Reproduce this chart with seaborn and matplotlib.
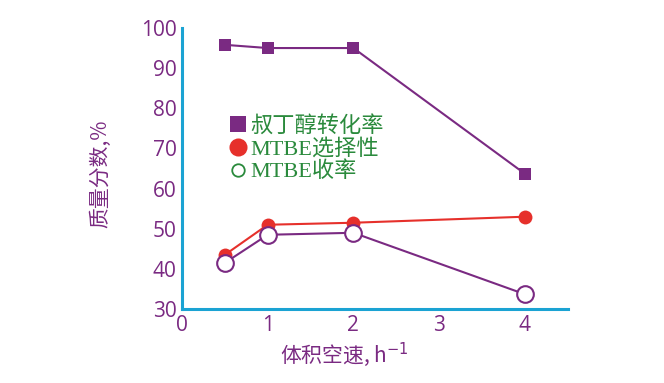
import matplotlib
matplotlib.use('Agg')
import matplotlib.pyplot as plt
import seaborn as sns
from matplotlib.lines import Line2D

# Data
space_velocity = [0.5, 1, 2, 4]
tba_conversion = [95.8, 95.0, 95.0, 63.7]
mtbe_selectivity = [43.5, 51.0, 51.5, 53.0]
mtbe_yield = [41.5, 48.5, 49.0, 33.7]

legend_labels = ['叔丁醇转化率', 'MTBE选择性', 'MTBE收率']
x_ticks = [0, 1, 2, 3, 4]
y_ticks = [30, 40, 50, 60, 70, 80, 90, 100]

purple = '#7a2a82'
red = '#e6302b'
cyan = '#1ba3d3'
green = '#2a8a3c'

sns.set_theme(style='white')
plt.rcParams['font.family'] = ['Liberation Serif', 'Noto Sans CJK SC', 'DejaVu Sans']

fig = plt.figure(figsize=(6.64, 3.83), dpi=100)
ax = fig.add_axes([0.274, 0.193, 0.581, 0.734])

sns.lineplot(x=space_velocity, y=tba_conversion, ax=ax, color=purple, lw=1.5,
             marker='s', markersize=8, markeredgewidth=0, markerfacecolor=purple)
sns.lineplot(x=space_velocity, y=mtbe_selectivity, ax=ax, color=red, lw=1.5,
             marker='o', markersize=10, markeredgewidth=0, markerfacecolor=red)
sns.lineplot(x=space_velocity, y=mtbe_yield, ax=ax, color=purple, lw=1.5,
             marker='o', markersize=12, markeredgewidth=1.5,
             markerfacecolor='white', markeredgecolor=purple)

ax.set_xlim(0, 4.5)
ax.set_ylim(30, 100)
ax.set_xticks(x_ticks + [4.5])
ax.set_xticklabels([str(t) for t in x_ticks] + [''])
ax.set_yticks(y_ticks)
ax.set_yticklabels([str(t) for t in y_ticks])

for side in ['top', 'right']:
    ax.spines[side].set_visible(False)
for side in ['left', 'bottom']:
    ax.spines[side].set_color(cyan)
    ax.spines[side].set_linewidth(2.2)

ax.tick_params(axis='both', direction='in', length=6, width=2, color=cyan,
               labelcolor=purple, labelsize=15)
ax.tick_params(axis='x', pad=4)
ax.tick_params(axis='y', pad=4)
for lab in ax.get_xticklabels() + ax.get_yticklabels():
    lab.set_family(['Open Sans', 'DejaVu Sans'])

ax.set_ylabel('质量分数,%', color=purple, fontsize=15,
              family=['Noto Sans CJK SC', 'DejaVu Sans'], va='center')
ax.yaxis.set_label_coords(-0.212, 0.48)
ax.set_xlabel('体积空速, h$^{-1}$', color=purple, fontsize=15,
              family=['Noto Sans CJK SC', 'DejaVu Sans'], va='center')
ax.xaxis.set_label_coords(0.42, -0.164)

handles = [
    Line2D([], [], ls='none', marker='s', markersize=12, color=purple, markeredgewidth=0),
    Line2D([], [], ls='none', marker='o', markersize=13, color=red, markeredgewidth=0),
    Line2D([], [], ls='none', marker='o', markersize=9, markerfacecolor='none',
           markeredgecolor=green, markeredgewidth=1.3),
]
leg = ax.legend(handles, legend_labels, loc='upper left', bbox_to_anchor=(0.105, 0.72),
                frameon=False, handlelength=0.6, handletextpad=0.25, labelspacing=0.1,
                borderaxespad=0, prop={'family': ['Liberation Serif', 'Noto Sans CJK SC'], 'size': 16})
for t in leg.get_texts():
    t.set_color(green)

fig.savefig('out.png', dpi=100)
